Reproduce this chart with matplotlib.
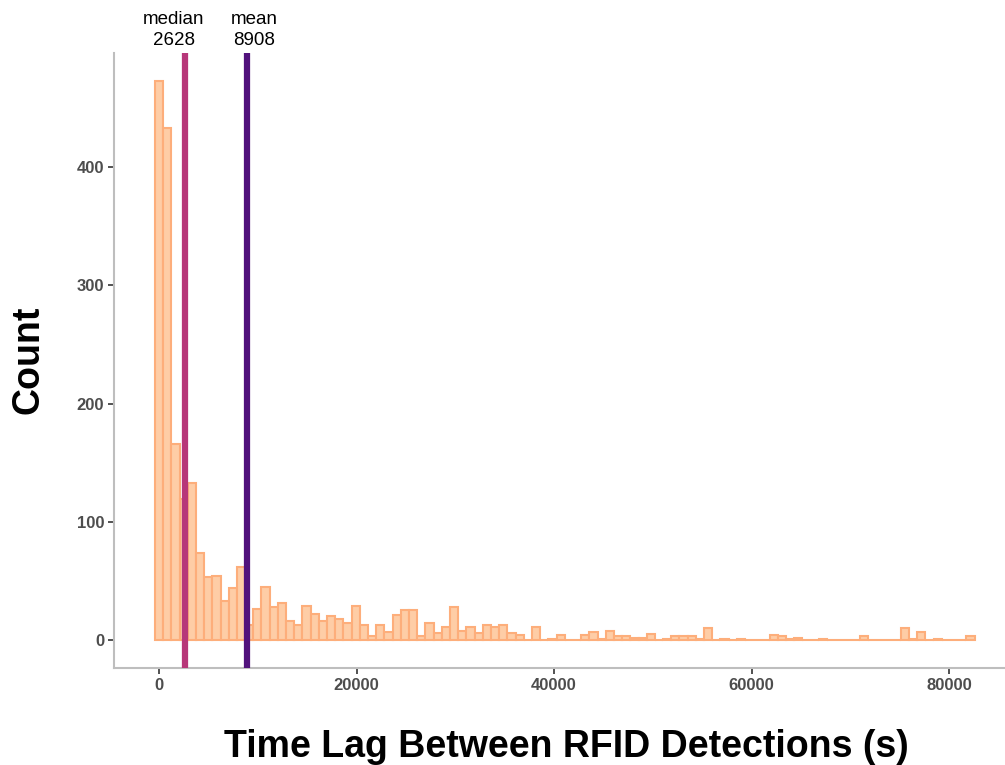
import matplotlib
matplotlib.use("Agg")
import matplotlib.pyplot as plt
import numpy as np

plt.rcParams['font.family'] = ['Liberation Sans', 'DejaVu Sans']

# histogram of time lags, 100 bins of ~830 s, first bin centred on 0
bin_width = 830
counts = [473, 433, 166, 119, 133, 74, 53, 54, 33, 44,
          62, 13, 26, 45, 28, 31, 16, 13, 29, 22,
          16, 20, 18, 14, 29, 13, 3, 13, 7, 21,
          25, 25, 3, 14, 6, 11, 28, 8, 11, 6,
          13, 11, 13, 6, 4, 0, 11, 0, 1, 4,
          0, 0, 4, 7, 1, 8, 3, 3, 2, 2,
          5, 0, 1, 3, 3, 3, 1, 10, 0, 1,
          0, 1, 0, 0, 0, 4, 3, 1, 2, 0,
          0, 1, 0, 0, 0, 0, 3, 0, 0, 0,
          0, 10, 1, 7, 0, 1, 0, 0, 0, 3]
centers = np.arange(len(counts)) * bin_width

median_val = 2628
mean_val = 8908
median_col = '#B73779'
mean_col = '#51127C'

fig = plt.figure(figsize=(10.05, 7.65), dpi=100)
ax = fig.add_axes([0.1134, 0.1268, 0.8866, 0.8043])

ax.bar(centers, counts, width=bin_width, color='#FECDA6', edgecolor='#FDAE7B',
       linewidth=1.5, zorder=2)
ax.axvline(median_val, color=median_col, lw=4.5, zorder=3)
ax.axvline(mean_val, color=mean_col, lw=4.5, zorder=3)

ax.set_xlim(-4565, 85670)
ax.set_ylim(-23.65, 496.65)
ax.set_xticks([0, 20000, 40000, 60000, 80000])
ax.set_yticks([0, 100, 200, 300, 400])

for side in ['top', 'right']:
    ax.spines[side].set_visible(False)
for side in ['left', 'bottom']:
    ax.spines[side].set_color('#BEBEBE')
    ax.spines[side].set_linewidth(1.5)
ax.tick_params(axis='both', colors='#333333', length=4, width=1.2, labelsize=12,
               labelcolor='#4D4D4D', pad=3)
for lab in ax.get_xticklabels() + ax.get_yticklabels():
    lab.set_fontweight('bold')

# labels above the reference lines, nudged apart a little
ax.annotate('median\n2628', xy=(median_val, 1.006), xycoords=ax.get_xaxis_transform(),
            xytext=(-8, 0), textcoords='offset points',
            ha='center', va='bottom', fontsize=13.5, linespacing=1.3)
ax.annotate('mean\n8908', xy=(mean_val, 1.006), xycoords=ax.get_xaxis_transform(),
            xytext=(5, 0), textcoords='offset points',
            ha='center', va='bottom', fontsize=13.5, linespacing=1.3)

fig.text(0.028, 0.53, 'Count', rotation=90, ha='center', va='center',
         fontsize=27, fontweight='bold')
fig.text(0.5635, 0.024, 'Time Lag Between RFID Detections (s)', ha='center',
         va='center', fontsize=27, fontweight='bold')

fig.savefig('out.png', dpi=100)
